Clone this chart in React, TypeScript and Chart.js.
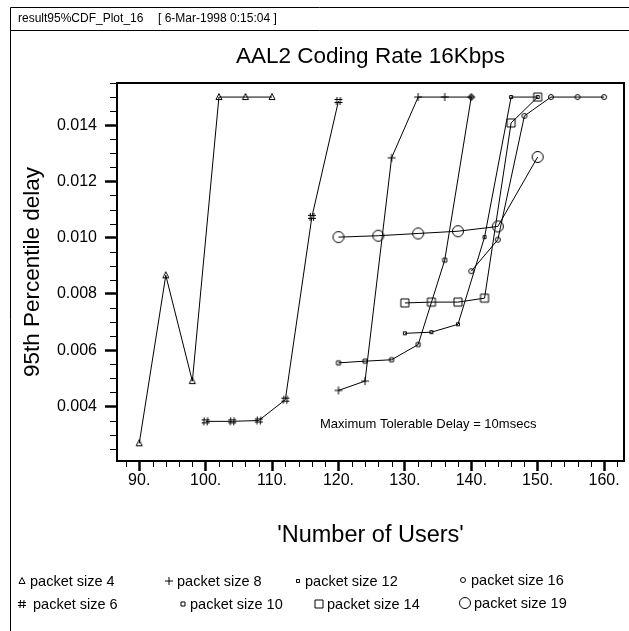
import { useEffect, useRef } from "react";
import { Chart, registerables } from "chart.js";

Chart.register(...registerables);

const FONT = "'Liberation Sans', Arial, Helvetica, sans-serif";

// ---- data (x = number of users, y = 95th percentile delay) ----
const xPs4 = [90, 94, 98, 102, 106, 110];
const yPs4 = [0.00269, 0.00866, 0.0049, 0.015, 0.015, 0.015];
const xPs6 = [100, 104, 108, 112, 116, 120];
const yPs6 = [0.00347, 0.00347, 0.0035, 0.00424, 0.01074, 0.01486];
const xPs8 = [120, 124, 128, 132, 136, 140];
const yPs8 = [0.00457, 0.0049, 0.01284, 0.015, 0.015, 0.015];
const xPs10 = [120, 124, 128, 132, 136, 140];
const yPs10 = [0.00555, 0.00561, 0.00566, 0.0062, 0.0092, 0.015];
const xPs12 = [130, 134, 138, 142, 146, 150];
const yPs12 = [0.0066, 0.00664, 0.00692, 0.01002, 0.015, 0.015];
const xPs14 = [130, 134, 138, 142, 146, 150];
const yPs14 = [0.00768, 0.00771, 0.00771, 0.00785, 0.01408, 0.015];
const xPs16 = [140, 144, 148, 152, 156, 160];
const yPs16 = [0.00881, 0.00993, 0.01433, 0.015, 0.015, 0.015];
const xPs19 = [120, 126, 132, 138, 144, 150];
const yPs19 = [0.01002, 0.01007, 0.01015, 0.01023, 0.0104, 0.01287];

const seriesLabels = [
  "packet size 4",
  "packet size 6",
  "packet size 8",
  "packet size 10",
  "packet size 12",
  "packet size 14",
  "packet size 16",
  "packet size 19",
];
const markerKinds = ["tri", "hash", "plus", "sq10", "sq12", "bigsq", "smcirc", "bigcirc"];

const xMajorTicks = [90, 100, 110, 120, 130, 140, 150, 160];
const yMajorTicks = [0.004, 0.006, 0.008, 0.01, 0.012, 0.014];

const headerName = "result95%CDF_Plot_16";
const headerDate = "[ 6-Mar-1998 0:15:04 ]";
const chartTitle = "AAL2 Coding Rate 16Kbps";
const xTitle = "'Number of Users'";
const yTitle = "95th Percentile delay";
const noteText = "Maximum Tolerable Delay = 10msecs";

function makeMarker(kind: string): HTMLCanvasElement {
  const c = document.createElement("canvas");
  c.width = 16;
  c.height = 16;
  const g = c.getContext("2d")!;
  g.strokeStyle = "#000";
  g.fillStyle = "#000";
  g.lineWidth = 1;
  g.beginPath();
  switch (kind) {
    case "tri":
      g.moveTo(8, 4.5);
      g.lineTo(11, 10.5);
      g.lineTo(5, 10.5);
      g.closePath();
      g.stroke();
      break;
    case "hash":
      g.moveTo(6.5, 4);
      g.lineTo(6, 12);
      g.moveTo(10, 4);
      g.lineTo(9.5, 12);
      g.moveTo(4, 6.5);
      g.lineTo(12, 6.5);
      g.moveTo(4, 9.5);
      g.lineTo(12, 9.5);
      g.stroke();
      break;
    case "plus":
      g.moveTo(8, 4);
      g.lineTo(8, 12);
      g.moveTo(4, 8);
      g.lineTo(12, 8);
      g.stroke();
      break;
    case "sq10":
      g.rect(6, 6, 4, 4);
      g.stroke();
      break;
    case "sq12":
      g.rect(6.5, 6.5, 3, 3);
      g.stroke();
      break;
    case "bigsq":
      g.rect(4, 4, 8, 8);
      g.stroke();
      break;
    case "smcirc":
      g.arc(8, 8, 2.5, 0, Math.PI * 2);
      g.stroke();
      break;
    case "bigcirc":
      g.arc(8, 8, 5.5, 0, Math.PI * 2);
      g.stroke();
      break;
  }
  return c;
}

export default function App() {
  const ref = useRef<HTMLCanvasElement>(null);

  useEffect(() => {
    const canvas = ref.current;
    if (!canvas) return;
    const markers: Record<string, HTMLCanvasElement> = {};
    markerKinds.forEach((k) => (markers[k] = makeMarker(k)));

    const xs = [xPs4, xPs6, xPs8, xPs10, xPs12, xPs14, xPs16, xPs19];
    const ys = [yPs4, yPs6, yPs8, yPs10, yPs12, yPs14, yPs16, yPs19];

    const datasets = xs.map((xa, i) => ({
      label: seriesLabels[i],
      data: xa.map((x, j) => ({ x, y: ys[i][j] })),
      borderColor: "#000",
      backgroundColor: "#000",
      borderWidth: 1,
      pointStyle: markers[markerKinds[i]],
      pointRadius: 4,
      pointHoverRadius: 4,
      fill: false,
      tension: 0,
    }));

    const decor = {
      id: "decor",
      afterDraw(chart: any) {
        const ctx = chart.ctx as CanvasRenderingContext2D;
        const a = chart.chartArea;
        const xs = chart.scales.x;
        const ysc = chart.scales.y;
        ctx.save();
        ctx.strokeStyle = "#000";
        ctx.fillStyle = "#000";

        // outer frame
        ctx.lineWidth = 1;
        ctx.beginPath();
        ctx.moveTo(10.5, 631);
        ctx.lineTo(10.5, 7.5);
        ctx.lineTo(629, 7.5);
        ctx.moveTo(10.5, 30.5);
        ctx.lineTo(629, 30.5);
        ctx.stroke();

        // header
        ctx.font = `12px ${FONT}`;
        ctx.textBaseline = "middle";
        ctx.textAlign = "left";
        ctx.fillText(headerName, 18, 19);
        ctx.fillText(headerDate, 158, 19);

        // title
        ctx.font = `22.5px ${FONT}`;
        ctx.textAlign = "center";
        ctx.fillText(chartTitle, (a.left + a.right) / 2, 57);

        // plot box
        ctx.lineWidth = 2;
        ctx.strokeRect(a.left, a.top, a.right - a.left, a.bottom - a.top);

        // minor ticks
        ctx.lineWidth = 1;
        ctx.beginPath();
        for (let v = 88; v <= 162; v += 2) {
          if (v % 10 === 0) continue;
          const px = Math.round(xs.getPixelForValue(v)) + 0.5;
          if (px < a.left || px > a.right) continue;
          ctx.moveTo(px, a.bottom);
          ctx.lineTo(px, a.bottom + 6);
        }
        for (let k = 5; k <= 31; k++) {
          if (k % 4 === 0) continue;
          const v = k * 0.0005;
          const py = Math.round(ysc.getPixelForValue(v)) + 0.5;
          if (py < a.top || py > a.bottom) continue;
          ctx.moveTo(a.left - 7, py);
          ctx.lineTo(a.left, py);
        }
        ctx.stroke();

        // note
        ctx.font = `13px ${FONT}`;
        ctx.textAlign = "left";
        ctx.fillText(noteText, 320, 424);

        // legend
        const legendPos = [
          [22, 581, 30],
          [22, 604, 33],
          [169, 581, 177],
          [183, 604, 190],
          [298, 581, 305],
          [319, 604, 327],
          [463, 580, 471],
          [465, 603, 474],
        ];
        ctx.font = `14.5px ${FONT}`;
        legendPos.forEach((p, i) => {
          const m = markers[markerKinds[i]];
          ctx.drawImage(m, p[0] - 8, p[1] - 8);
          ctx.fillText(seriesLabels[i], p[2], p[1] + 1);
        });
        ctx.restore();
      },
    };

    const chart = new Chart(canvas, {
      type: "line",
      data: { datasets: datasets as any },
      plugins: [decor as any],
      options: {
        responsive: false,
        devicePixelRatio: 1,
        animation: false,
        events: [],
        layout: { padding: { top: 83, right: 3, left: 0, bottom: 0 } },
        plugins: {
          legend: { display: false },
          title: { display: false },
          tooltip: { enabled: false },
        },
        scales: {
          x: {
            type: "linear",
            position: "bottom",
            min: 86.65,
            max: 163,
            afterFit(scale: any) {
              scale.height = 170;
            },
            afterBuildTicks(scale: any) {
              scale.ticks = xMajorTicks.map((v) => ({ value: v }));
            },
            grid: {
              display: true,
              drawOnChartArea: false,
              drawTicks: true,
              tickLength: 10,
              tickWidth: 2.5,
              tickColor: "#000",
            },
            border: { display: true, color: "#000", width: 2 },
            ticks: {
              color: "#000",
              font: { family: FONT, size: 16 },
              padding: 0,
              maxRotation: 0,
              autoSkip: false,
              callback: (v: any) => `${v}.`,
            },
            title: {
              display: true,
              text: xTitle,
              color: "#000",
              font: { family: FONT, size: 23.5 },
              padding: { top: 0, bottom: 81 },
            },
          },
          y: {
            type: "linear",
            position: "left",
            min: 0.00206,
            max: 0.0155,
            afterFit(scale: any) {
              scale.width = 117;
            },
            afterBuildTicks(scale: any) {
              scale.ticks = yMajorTicks.map((v) => ({ value: v }));
            },
            grid: {
              display: true,
              drawOnChartArea: false,
              drawTicks: true,
              tickLength: 12,
              tickWidth: 2.5,
              tickColor: "#000",
            },
            border: { display: true, color: "#000", width: 2 },
            ticks: {
              color: "#000",
              font: { family: FONT, size: 16 },
              padding: 8,
              autoSkip: false,
              callback: (v: any) => Number(v).toFixed(3),
            },
            title: {
              display: true,
              text: yTitle,
              color: "#000",
              font: { family: FONT, size: 22.5 },
              padding: { top: 19, bottom: 0 },
            },
          },
        },
      },
    });
    return () => chart.destroy();
  }, []);

  return (
    <div
      style={{
        position: "fixed",
        left: 0,
        top: 0,
        width: 629,
        height: 631,
        background: "#fff",
      }}
    >
      <canvas
        ref={ref}
        width={629}
        height={631}
        style={{ display: "block", width: 629, height: 631 }}
      />
    </div>
  );
}
